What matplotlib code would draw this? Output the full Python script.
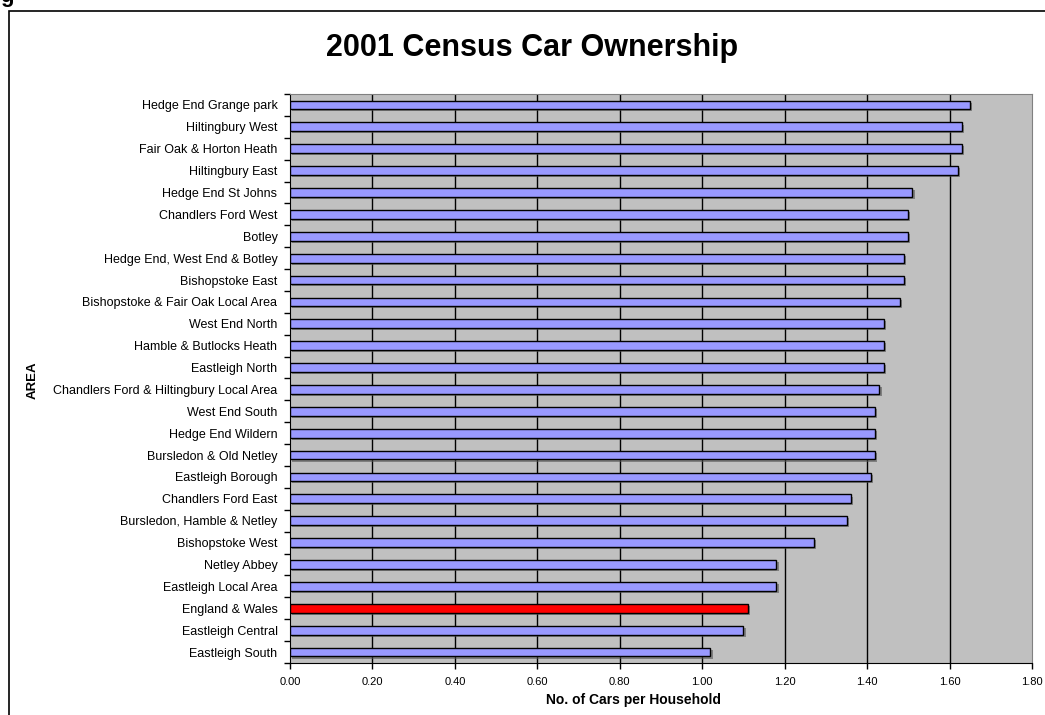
import numpy as np
import matplotlib.pyplot as plt
from matplotlib.patches import Rectangle
import matplotlib.patheffects as pe

plt.rcParams['font.family'] = ['Liberation Sans', 'DejaVu Sans']

# data, top to bottom as in the chart
areas = [
    'Hedge End Grange park', 'Hiltingbury West', 'Fair Oak & Horton Heath',
    'Hiltingbury East', 'Hedge End St Johns', 'Chandlers Ford West', 'Botley',
    'Hedge End, West End & Botley', 'Bishopstoke East',
    'Bishopstoke & Fair Oak Local Area', 'West End North',
    'Hamble & Butlocks Heath', 'Eastleigh North',
    'Chandlers Ford & Hiltingbury Local Area', 'West End South',
    'Hedge End Wildern', 'Bursledon & Old Netley', 'Eastleigh Borough',
    'Chandlers Ford East', 'Bursledon, Hamble & Netley', 'Bishopstoke West',
    'Netley Abbey', 'Eastleigh Local Area', 'England & Wales',
    'Eastleigh Central', 'Eastleigh South',
]
cars = [1.65, 1.63, 1.63, 1.62, 1.51, 1.50, 1.50, 1.49, 1.49, 1.48, 1.44,
        1.44, 1.44, 1.43, 1.42, 1.42, 1.42, 1.41, 1.36, 1.35, 1.27, 1.18,
        1.18, 1.11, 1.10, 1.02]
highlight = 'England & Wales'

xticks = np.arange(0, 1.81, 0.2)

fig = plt.figure(figsize=(10.45, 7.15), dpi=100)

# outer chart frame (runs off the right/bottom edge)
fig.patches.append(Rectangle((9 / 1045, -0.1), 1.2, 1 - 11 / 715 + 0.1,
                             transform=fig.transFigure, fill=False,
                             edgecolor='black', linewidth=1.2))
fig.text(0.0, 1.0 - 2 / 715, 'g', fontsize=16, fontweight='bold',
         ha='left', va='baseline')

ax = fig.add_axes([290 / 1045, 1 - 663 / 715, 742 / 1045, 569 / 715])
ax.set_facecolor('#c0c0c0')

y = np.arange(len(areas))
colors = ['#ff0000' if a == highlight else '#9999ff' for a in areas]
bars = ax.barh(y, cars, height=0.4, color=colors, edgecolor='black',
               linewidth=1, zorder=3)
for b in bars:
    b.set_path_effects([pe.SimplePatchShadow(offset=(1.5, -1.5), shadow_rgbFace='#555555', alpha=0.6),
                        pe.Normal()])

ax.set_xlim(0, 1.8)
ax.set_ylim(len(areas) - 0.5, -0.5)
ax.set_xticks(xticks)
ax.set_xticklabels(['%.2f' % t for t in xticks], fontsize=8)
ax.set_yticks(y)
ax.set_yticklabels(areas, fontsize=9)
ax.set_yticks(np.arange(-0.5, len(areas), 1), minor=True)
ax.tick_params(axis='y', which='major', length=0, pad=9)
ax.tick_params(axis='y', which='minor', length=4, direction='out', width=1)
ax.tick_params(axis='x', length=4, direction='out', width=1, pad=6)

for t in xticks[1:-1]:
    ax.axvline(t, color='black', linewidth=1, zorder=1)

for s in ['left', 'bottom']:
    ax.spines[s].set_color('black')
for s in ['top', 'right']:
    ax.spines[s].set_color('#808080')

fig.text(532 / 1045, 1 - 48 / 715, '2001 Census Car Ownership', fontsize=22,
         fontweight='bold', ha='center', va='center')
fig.text(634 / 1045, 1 - 700 / 715, 'No. of Cars per Household', fontsize=10,
         fontweight='bold', ha='center', va='center')
fig.text(33 / 1045, 1 - 380 / 715, 'AREA', fontsize=9.5, fontweight='bold',
         rotation=90, ha='center', va='center')

fig.savefig('out.png', dpi=100)
